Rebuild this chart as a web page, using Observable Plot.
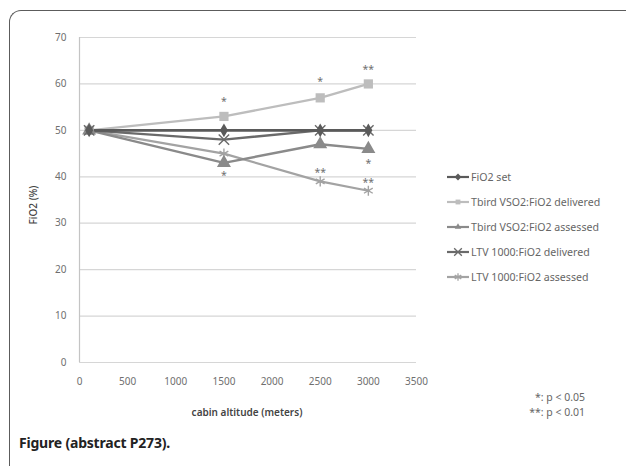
<!DOCTYPE html>
<html>
<head>
<meta charset="utf-8">
<script src="https://cdn.jsdelivr.net/npm/d3@7"></script>
<script src="https://cdn.jsdelivr.net/npm/@observablehq/plot@0.6"></script>
<style>
  html, body { margin: 0; padding: 0; background: #fff; overflow: hidden; }
  #wrap { position: relative; width: 626px; height: 466px; overflow: hidden; font-family: "Noto Sans", sans-serif; }
  #frame { position: absolute; left: 9px; top: 10px; width: 800px; height: 600px;
           border-top: 1.5px solid #5c5c5c; border-left: 1.5px solid #5c5c5c; border-top-left-radius: 12px; }
  #chart { position: absolute; left: 0; top: 0; }
  .lbl { position: absolute; white-space: nowrap; color: #555; }
  #legend { position: absolute; left: 446px; top: 164px; }
  .row { height: 25px; display: flex; align-items: center; font-size: 10.6px; color: #666; }
  .row svg { margin-right: 1px; }
</style>
</head>
<body>
<div id="wrap">
  <div id="frame"></div>
  <div id="chart"></div>
  <div id="legend"></div>
  <div class="lbl" id="ylab" style="left:33px; top:205px; font-size:10px; font-weight:500; color:#444; transform: translate(-50%,-50%) rotate(-90deg);">FiO2 (%)</div>
  <div class="lbl" id="xlab" style="left:247px; top:412px; font-size:10px; font-weight:600; color:#444; transform: translate(-50%,-50%);">cabin altitude (meters)</div>
  <div class="lbl" style="right:41px; top:397px; font-size:10.5px; color:#666; transform: translateY(-50%);">*: p &lt; 0.05</div>
  <div class="lbl" style="right:41px; top:412px; font-size:10.5px; color:#666; transform: translateY(-50%);">**: p &lt; 0.01</div>
  <div class="lbl" style="left:19px; top:442px; font-size:14px; font-weight:700; color:#222; transform: translateY(-50%); letter-spacing:-0.2px;">Figure (abstract P273).</div>
</div>
<script>
// ---- data ----
const altitudes = [100, 1500, 2500, 3000];
const seriesNames = [
  "FiO2 set",
  "Tbird VSO2:FiO2 delivered",
  "Tbird VSO2:FiO2 assessed",
  "LTV 1000:FiO2 delivered",
  "LTV 1000:FiO2 assessed"
];
const fio2Set          = [50, 50, 50, 50];
const tbirdDelivered   = [50, 53, 57, 60];
const tbirdAssessed    = [50, 43, 47, 46];
const ltvDelivered     = [50, 48, 50, 50];
const ltvAssessed      = [50, 45, 39, 37];
const seriesValues = [fio2Set, tbirdDelivered, tbirdAssessed, ltvDelivered, ltvAssessed];

// significance markers: altitude, value level, label
const sigX     = [1500, 1500, 2500, 2500, 3000, 3000, 3000];
const sigY     = [56.8, 41.0, 61.1, 41.6, 63.7, 43.4, 39.3];
const sigLabel = ["*", "*", "*", "**", "**", "*", "**"];

const yTicks = [0, 10, 20, 30, 40, 50, 60, 70];
const xTicks = [0, 500, 1000, 1500, 2000, 2500, 3000, 3500];

// ---- styles ----
const colors  = ["#5a5a5a", "#bdbdbd", "#8a8a8a", "#6a6a6a", "#a3a3a3"];
const symbols = ["diamond", "square", "triangle", "times", "asterisk"];
const sizes   = [4.2, 5.2, 5.2, 4.8, 4.8];
const widths  = [2.6, 2.4, 2.4, 2.4, 2.2];

const rows = [];
seriesNames.forEach((s, i) => altitudes.forEach((a, j) => rows.push({series: s, idx: i, x: a, y: seriesValues[i][j]})));
const sig = sigX.map((x, i) => ({x, y: sigY[i], label: sigLabel[i]}));

const marks = [
  Plot.ruleY(yTicks, {stroke: "#d6d6d6", strokeWidth: 1.2}),
  Plot.ruleX([0], {stroke: "#c4c4c4", strokeWidth: 1.2}),
  Plot.axisY({ticks: yTicks, tickSize: 0, tickPadding: 13, fontSize: 10, fill: "#6f6f6f", label: null}),
  Plot.axisX({ticks: xTicks, tickSize: 0, tickPadding: 15, fontSize: 10, fill: "#6f6f6f", label: null, tickFormat: d => String(d)})
];
const order = [1, 4, 2, 3, 0];
order.forEach(i => {
  const d = rows.filter(r => r.idx === i);
  marks.push(Plot.line(d, {x: "x", y: "y", stroke: colors[i], strokeWidth: widths[i]}));
});
order.forEach(i => {
  const d = rows.filter(r => r.idx === i);
  const filled = !(symbols[i] === "times" || symbols[i] === "asterisk");
  marks.push(Plot.dot(d, filled
    ? {x: "x", y: "y", symbol: () => symbols[i], r: sizes[i], fill: colors[i], stroke: "none"}
    : {x: "x", y: "y", symbol: () => symbols[i], r: sizes[i], stroke: colors[i], strokeWidth: 1.4, fill: "none"}));
});
marks.push(Plot.text(sig, {x: "x", y: "y", text: "label", fontSize: 10.5, fill: "#707070", dy: 3}));

const chart = Plot.plot({
  width: 626,
  height: 430,
  marginLeft: 79,
  marginRight: 210,
  marginTop: 37,
  marginBottom: 68,
  style: {fontFamily: "Noto Sans, sans-serif", background: "transparent"},
  x: {domain: [0, 3500]},
  y: {domain: [0, 70]},
  symbol: {type: "identity"},
  marks
});
document.getElementById("chart").appendChild(chart);

// ---- legend ----
const leg = document.getElementById("legend");
const symMap = {diamond: d3.symbolDiamond2, square: d3.symbolSquare2, triangle: d3.symbolTriangle2, times: d3.symbolTimes, asterisk: d3.symbolAsterisk};
seriesNames.forEach((s, i) => {
  const row = document.createElement("div");
  row.className = "row";
  const sw = d3.create("svg").attr("width", 24).attr("height", 12);
  sw.append("line").attr("x1", 1).attr("x2", 23).attr("y1", 6).attr("y2", 6)
    .attr("stroke", colors[i]).attr("stroke-width", 2.2);
  const filled = !(symbols[i] === "times" || symbols[i] === "asterisk");
  sw.append("path").attr("transform", "translate(12,6)")
    .attr("d", d3.symbol(symMap[symbols[i]], filled ? 30 : 40)())
    .attr("fill", filled ? colors[i] : "none")
    .attr("stroke", filled ? "none" : colors[i]).attr("stroke-width", 1.3);
  row.appendChild(sw.node());
  const t = document.createElement("span");
  t.textContent = s;
  row.appendChild(t);
  leg.appendChild(row);
});
</script>
</body>
</html>
